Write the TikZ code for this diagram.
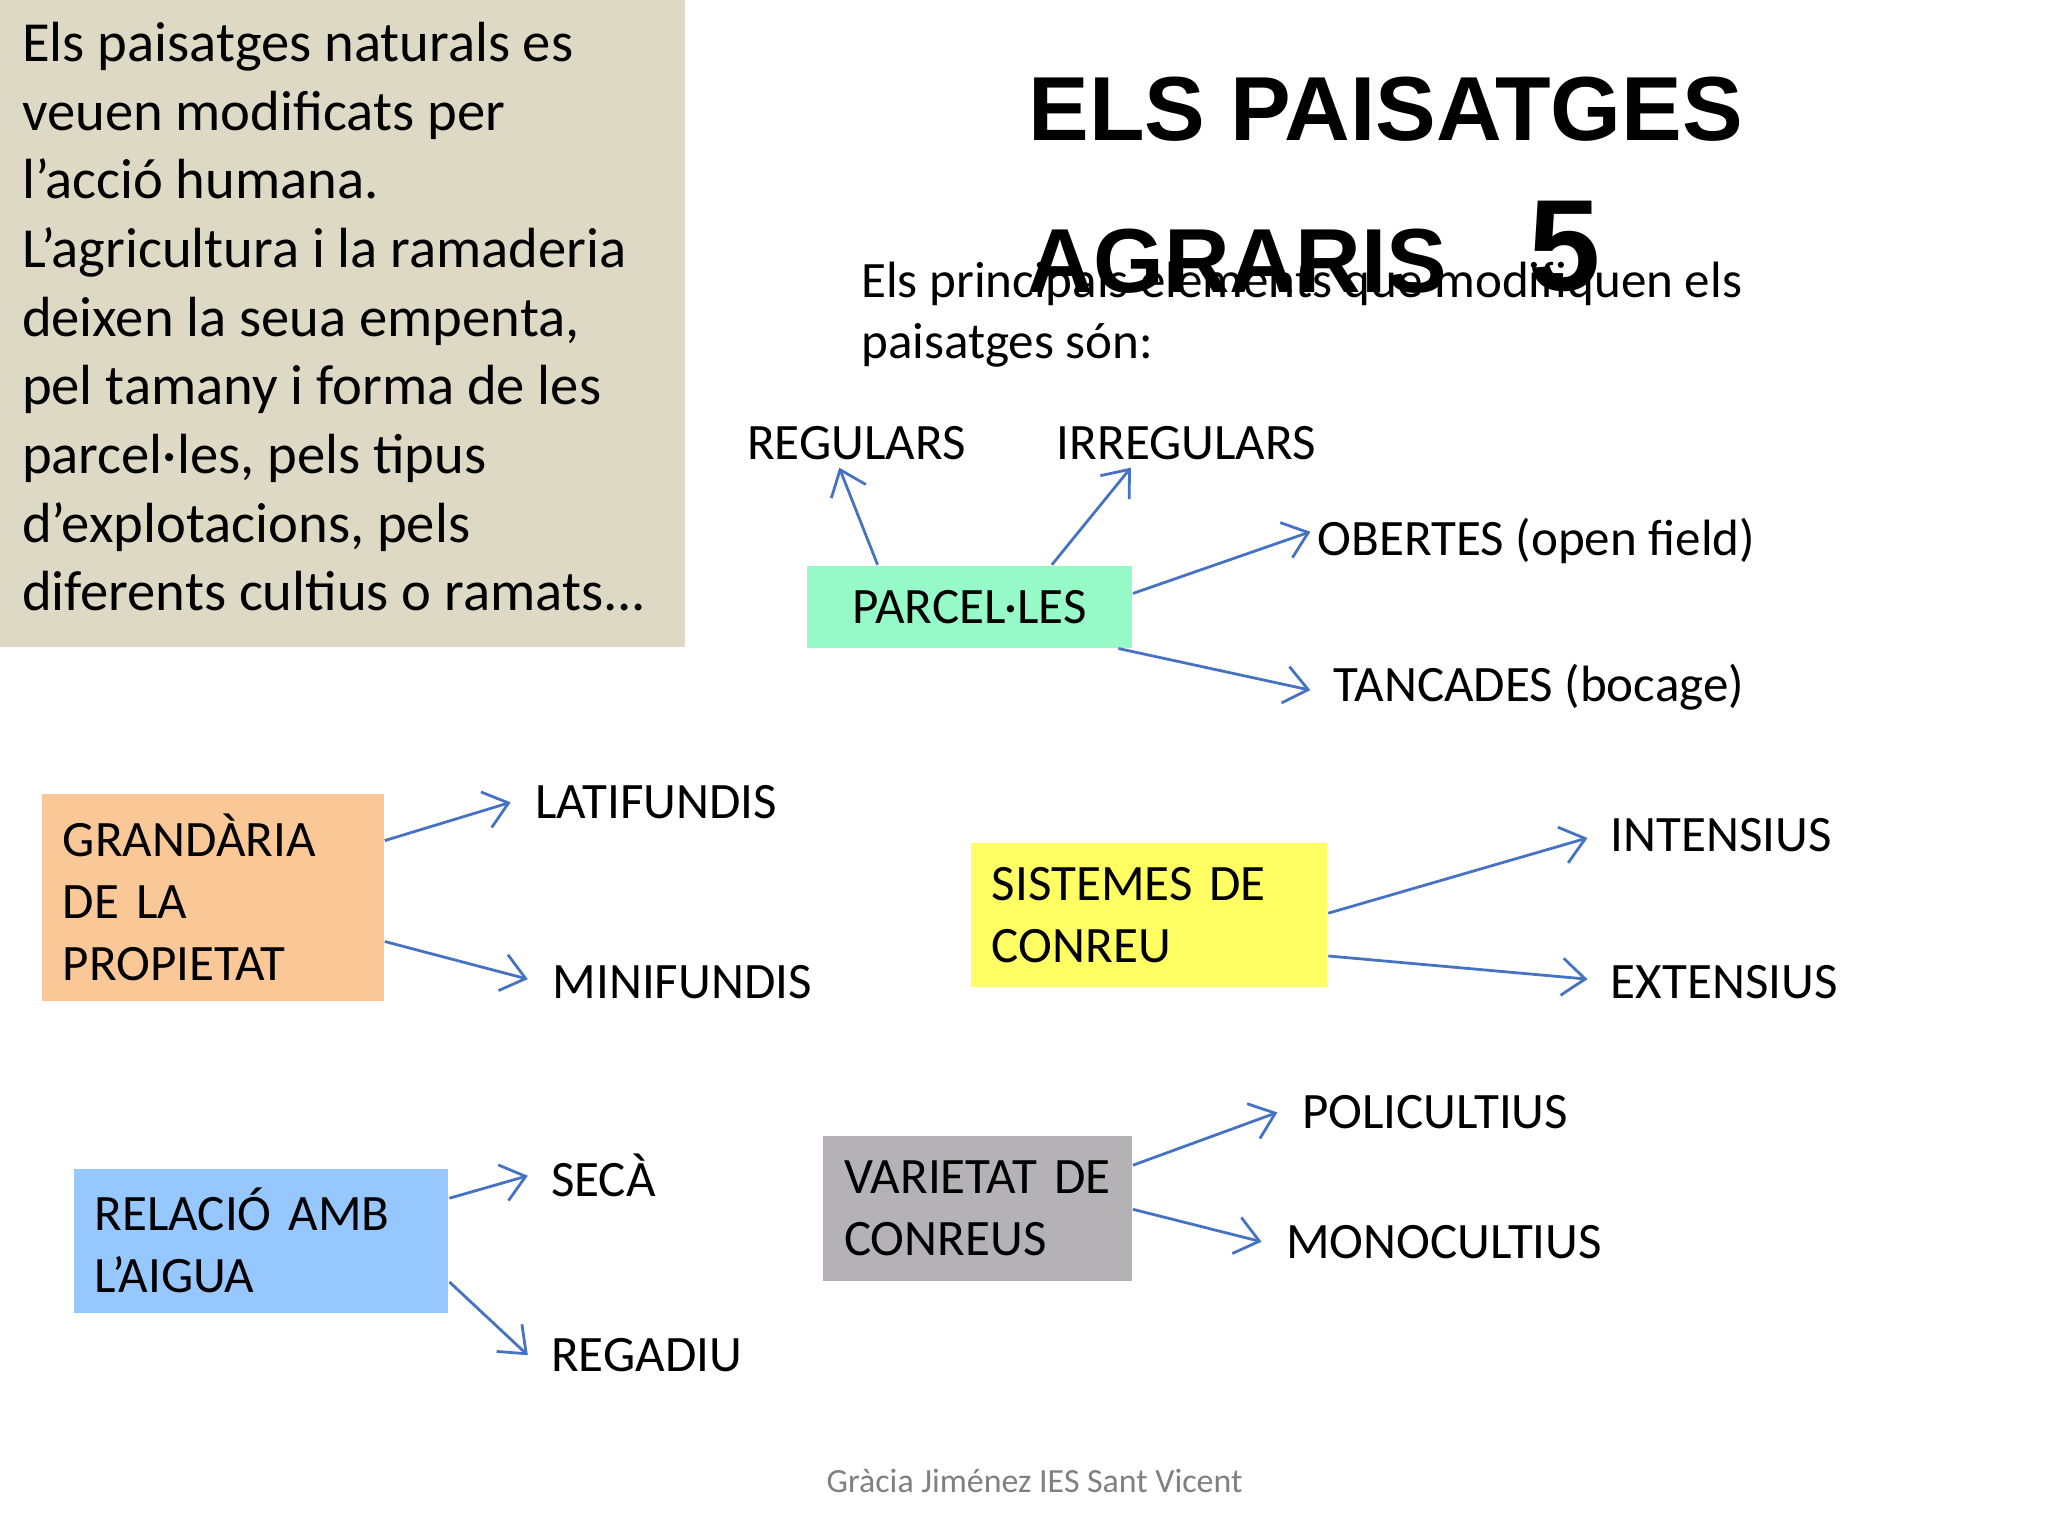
\documentclass[tikz,border=0pt]{standalone}
\usepackage{fontspec}
\setmainfont{Carlito}
\newfontfamily\titlefont{Liberation Sans}
\usetikzlibrary{arrows.meta}
\definecolor{arr}{RGB}{70,114,196}
\definecolor{beige}{RGB}{221,217,196}
\definecolor{mint}{RGB}{150,250,200}
\definecolor{peach}{RGB}{250,200,150}
\definecolor{yel}{RGB}{255,255,100}
\definecolor{lblue}{RGB}{150,200,255}
\definecolor{gr}{RGB}{180,178,180}
\tikzset{
 conn/.style={draw=arr,line width=0.6pt,-{Straight Barb[length=5pt,width=8pt]}},
 lab/.style={anchor=west,inner sep=0pt,font=\fontsize{11}{13}\selectfont},
 box/.style={anchor=north west,inner xsep=0.16cm,inner ysep=0pt,align=left,font=\fontsize{11}{13.4}\selectfont}
}
\begin{document}
\begin{tikzpicture}[x=0.01cm,y=-0.01cm]
\useasboundingbox (0,0) rectangle (1552,1164);
\fill[white] (0,0) rectangle (1552,1164);
\fill[beige] (0,0) rectangle (519,490);
\node[anchor=north west,align=left,inner sep=0pt,font=\fontsize{12.2}{14.8}\selectfont] (intro) at (16,16) {Els paisatges naturals es\\veuen modificats per\\l’acció humana.\\L’agricultura i la ramaderia\\deixen la seua empenta,\\pel tamany i forma de les\\parcel·les, pels tipus\\d’explotacions, pels\\diferents cultius o ramats...};
\node[anchor=north west,align=left,inner sep=0pt,font=\fontsize{11}{13.2}\selectfont] (sub) at (652,198) {Els principals elements que modifiquen els\\paisatges són:};
\node[inner sep=0pt,font=\titlefont\bfseries\fontsize{19.6}{24}\selectfont] (t1) at (1050,83) {ELS PAISATGES};
\node[anchor=west,inner sep=0pt,font=\titlefont\bfseries\fontsize{19.6}{24}\selectfont] (t2) at (778,198) {AGRARIS};
\node[inner sep=0pt,font=\titlefont\bfseries\fontsize{28}{30}\selectfont] (t3) at (1186,187) {5};
% parcel-les
\node[box,fill=mint,minimum width=2.46cm,minimum height=0.62cm] (parc) at (611,428) {PARCEL·LES};
\node[lab,anchor=center] (reg) at (649,336) {REGULARS};
\node[lab,anchor=center] (irr) at (899,336) {IRREGULARS};
\node[lab] (obe) at (998,410) {OBERTES (open field)};
\node[lab] (tan) at (1010,521) {TANCADES (bocage)};
\draw[conn] ([xshift=0.54cm]parc.north west) -- ([xshift=-0.13cm,yshift=-0.05cm]reg.south);
\draw[conn] ([xshift=1.86cm]parc.north west) -- ([xshift=-0.42cm,yshift=-0.05cm]irr.south);
\draw[conn] ([yshift=0.1cm]parc.east) -- ([xshift=-0.05cm,yshift=0.07cm]obe.west);
\draw[conn] ([xshift=-0.11cm]parc.south east) -- ([xshift=-0.17cm,yshift=-0.02cm]tan.west);
% grandaria
\node[box,fill=peach,minimum height=1.57cm,text width=2.27cm] (gran) at (31,601) {GRANDÀRIA\\DE LA\\PROPIETAT};
\node[lab] (lat) at (405,608) {LATIFUNDIS};
\node[lab] (min) at (418,744) {MINIFUNDIS};
\draw[conn] ([yshift=-0.36cm]gran.north east) -- ([xshift=-0.18cm]lat.west);
\draw[conn] ([yshift=0.46cm]gran.south east) -- ([xshift=-0.18cm,yshift=0.02cm]min.west);
% sistemes
\node[box,fill=yel,minimum height=1.09cm,text width=2.38cm] (sis) at (735,638) {SISTEMES DE\\CONREU};
\node[lab] (int) at (1220,633) {INTENSIUS};
\node[lab] (ext) at (1220,744) {EXTENSIUS};
\draw[conn] ([yshift=-0.54cm]sis.north east) -- ([xshift=-0.17cm,yshift=-0.02cm]int.west);
\draw[conn] ([yshift=0.24cm]sis.south east) -- ([xshift=-0.17cm,yshift=0.02cm]ext.west);
% relacio
\node[box,fill=lblue,minimum height=1.09cm,text width=2.52cm] (rel) at (55,885) {RELACIÓ AMB\\L’AIGUA};
\node[lab] (sec) at (417,891) {SECÀ};
\node[lab] (rga) at (417,1027) {REGADIU};
\draw[conn] ([yshift=-0.23cm]rel.north east) -- ([xshift=-0.17cm]sec.west);
\draw[conn] ([yshift=0.24cm]rel.south east) -- ([xshift=-0.17cm]rga.west);
% varietat
\node[box,fill=gr,minimum height=1.10cm,text width=2.02cm] (var) at (623,860) {VARIETAT DE\\CONREUS};
\node[lab] (pol) at (986,843) {POLICULTIUS};
\node[lab] (mon) at (974,941) {MONOCULTIUS};
\draw[conn] ([yshift=-0.23cm]var.north east) -- ([xshift=-0.18cm]pol.west);
\draw[conn] ([yshift=0.55cm]var.south east) -- ([xshift=-0.18cm]mon.west);
\node[inner sep=0pt,text=gray,font=\fontsize{7.3}{9}\selectfont] (foot) at (784,1122) {Gràcia Jiménez IES Sant Vicent};
\end{tikzpicture}
\end{document}
